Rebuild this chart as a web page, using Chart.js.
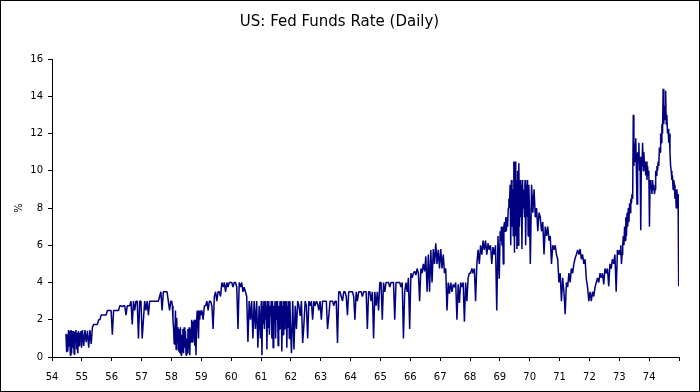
<!DOCTYPE html>
<html>
<head>
<meta charset="utf-8">
<title>US: Fed Funds Rate (Daily)</title>
<script src="https://cdn.jsdelivr.net/npm/chart.js@4/dist/chart.umd.min.js"></script>
<style>
    html, body { margin: 0; padding: 0; background: #ffffff; }
    #wrap { width: 700px; height: 392px; }
</style>
</head>
<body>
<div id="wrap"><canvas id="fedChart" width="700" height="392"></canvas></div>
<script>
// US Fed Funds rate (%).
// Quiet years: two readings per month, choppy years: four.

const years = [54, 55, 56, 57, 58, 59, 60, 61, 62, 63, 64, 65, 66, 67, 68, 69, 70, 71, 72, 73, 74];
const yearLabels = ['54', '55', '56', '57', '58', '59', '60', '61', '62', '63', '64',
    '65', '66', '67', '68', '69', '70', '71', '72', '73', '74'];

const rate1954 = [null, null, null, null, null, null, null, null, null, null, null,
    null, null, null, null, null, null, null, null, null, null, null,
    1.25, 0.25, 1.2, 0.3, 1.45, 0.6, 1.4, 0.1, 1.45, 0.2,
    1.4, 0.5, 1.4, 0.15, 1.35, 0.8, 1.45, 0.4, 1.3, 0.2,
    1.4, 0.6, 1.3, 1.0, 1.4, 0.5];
const rate1955 = [1.45, 0.6, 1.45, 0.8, 1.4, 0.5, 1.45, 0.7, 1.6, 1.75, 1.75, 1.75,
    1.75, 2.0, 2.0, 2.25, 2.25, 2.25, 2.25, 2.25, 2.5, 2.5, 2.5, 2.5];
const rate1956 = [1.2, 2.5, 2.5, 2.5, 2.5, 2.5, 2.75, 2.75, 2.7, 2.75, 2.75, 2.25,
    2.75, 2.75, 2.75, 3.0, 1.75, 3.0, 2.5, 3.0, 3.0, 1.0, 3.0, 3.0];
const rate1957 = [1.0, 2.0, 3.0, 2.5, 3.0, 2.25, 3.0, 3.0, 3.0, 3.0, 3.0, 3.0,
    3.0, 3.0, 3.25, 3.5, 2.5, 3.5, 3.5, 3.5, 3.5, 3.0, 2.5, 3.0];
const rate1958 = [3.0, 2.75, 2.0, 1.5, 0.7, 1.0, 2.5, 0.4, 2.1, 0.8, 1.6, 0.3,
    1.5, 0.2, 1.6, 0.1, 1.2, 0.3, 1.5, 0.2, 1.6, 0.5, 1.4, 0.1,
    1.0, 0.2, 1.5, 0.4, 1.6, 0.1, 1.5, 0.8, 2.0, 0.8, 1.9, 1.0,
    2.0, 0.6, 2.0, 0.1, 2.0, 2.5, 1.8, 1.0, 2.5, 2.0, 2.5, 2.25];
const rate1959 = [2.5, 2.0, 2.75, 2.75, 3.0, 2.5, 3.0, 3.0, 2.75, 1.5, 3.25, 3.5,
    3.0, 3.5, 3.5, 3.25, 4.0, 3.75, 4.0, 3.5, 4.0, 3.75, 4.0, 4.0];
const rate1960 = [4.0, 3.75, 4.0, 4.0, 3.75, 1.5, 4.0, 3.75, 4.0, 3.5, 3.75, 3.5,
    3.25, 0.8, 3.0, 2.0, 3.0, 1.0, 3.0, 1.5, 3.0, 0.5, 2.75, 1.0];
const rate1961 = [3.0, 0.1, 2.75, 1.8, 3.0, 1.5, 3.0, 2.0, 2.75, 0.4, 3.0, 1.6,
    3.0, 1.2, 2.75, 2.2, 3.0, 1.0, 3.0, 0.5, 2.75, 1.8, 3.0, 1.0,
    3.0, 2.0, 3.0, 0.6, 2.75, 1.5, 3.0, 2.2, 3.0, 0.3, 2.75, 1.2,
    3.0, 1.5, 3.0, 2.0, 3.0, 0.5, 2.75, 1.6, 3.0, 1.0, 3.0, 1.5];
const rate1962 = [0.2, 3.0, 0.4, 2.75, 1.5, 3.0, 2.75, 2.2, 3.0, 0.75, 1.75, 3.0,
    2.75, 1.0, 3.0, 2.75, 3.0, 2.0, 3.0, 2.75, 3.0, 2.85, 2.5, 3.0];
const rate1963 = [2.0, 3.0, 3.0, 3.0, 3.0, 1.5, 2.2, 3.0, 3.0, 3.0, 2.75, 3.0,
    3.0, 0.75, 3.5, 3.5, 3.25, 3.0, 3.5, 3.5, 3.25, 2.25, 3.5, 3.5];
const rate1964 = [3.5, 3.5, 3.25, 2.0, 3.5, 3.0, 3.5, 3.5, 3.5, 3.25, 3.5, 3.5,
    3.5, 1.5, 3.5, 3.5, 3.0, 3.5, 1.0, 3.5, 2.75, 3.5, 2.5, 4.0];
const rate1965 = [4.0, 2.0, 4.0, 3.5, 4.0, 4.0, 4.0, 3.75, 4.0, 4.0, 4.0, 2.0,
    4.0, 4.0, 4.0, 4.0, 3.75, 4.0, 1.0, 3.5, 4.0, 3.5, 4.25, 1.5];
const rate1966 = [4.5, 4.25, 4.5, 4.6, 4.4, 4.75, 4.5, 3.0, 4.75, 4.5, 5.0, 4.6,
    5.4, 3.5, 5.5, 3.5, 5.75, 4.0, 5.8, 5.0, 6.1, 5.0, 5.75, 4.75];
const rate1967 = [5.8, 4.75, 5.5, 4.5, 4.75, 2.5, 4.0, 3.4, 4.0, 3.5, 3.9, 3.75,
    4.0, 2.0, 3.9, 2.9, 4.0, 3.75, 4.0, 1.9, 4.0, 3.0, 4.25, 4.5];
const rate1968 = [4.5, 4.75, 4.5, 4.75, 3.0, 5.0, 5.75, 5.0, 6.0, 5.5, 6.25, 5.75,
    6.25, 5.5, 6.1, 5.75, 6.0, 5.0, 5.9, 5.5, 6.0, 2.5, 6.5, 4.2];
const rate1969 = [6.75, 6.25, 7.0, 6.0, 7.0, 5.0, 7.0, 7.25, 6.75, 7.5, 6.75, 7.5,
    7.0, 8.0, 8.5, 8.25, 9.25, 6.0, 9.5, 7.0, 9.0, 6.5, 10.5, 5.6,
    10.5, 6.5, 9.5, 5.8, 10.0, 6.0, 10.4, 7.0, 9.5, 7.5, 9.25, 5.8,
    9.5, 8.0, 9.0, 7.5, 9.5, 6.0, 9.25, 7.5, 9.5, 6.5, 9.25, 8.0];
const rate1970 = [5.0, 9.25, 7.75, 9.0, 7.5, 8.0, 6.75, 7.75, 7.5, 6.75, 7.25, 5.5,
    7.0, 6.5, 7.0, 6.25, 6.5, 5.0, 6.0, 5.75, 6.0, 5.5, 5.25, 4.0];
const rate1971 = [4.5, 3.0, 4.25, 3.5, 2.3, 4.0, 3.75, 4.5, 4.0, 4.75, 4.5, 5.0,
    5.3, 5.5, 5.75, 5.5, 5.8, 5.25, 5.5, 5.0, 5.25, 4.2, 3.75, 3.0];
const rate1972 = [3.5, 3.0, 3.5, 3.25, 3.75, 4.0, 4.25, 4.0, 4.5, 4.25, 4.5, 3.9,
    4.75, 4.5, 4.75, 3.8, 5.0, 4.75, 5.25, 5.0, 5.5, 3.5, 5.75, 5.5];
const rate1973 = [5.75, 5.5, 6.0, 5.0, 5.5, 6.0, 6.5, 6.0, 7.0, 6.25, 7.5, 6.5,
    7.75, 7.0, 8.0, 7.25, 8.25, 7.75, 8.5, 8.25, 8.75, 8.5, 13.0, 10.25,
    11.5, 10.5, 11.75, 10.0, 8.2, 11.0, 10.5, 11.5, 10.0, 10.75, 6.8, 10.5,
    10.25, 11.5, 10.0, 11.0, 10.25, 10.5, 9.75, 10.5, 9.5, 10.25, 9.75, 10.0];
const rate1974 = [7.0, 9.5, 9.0, 9.25, 8.75, 9.5, 9.0, 9.25, 8.75, 9.0, 10.0, 9.75,
    10.25, 10.0, 10.5, 10.25, 11.25, 11.0, 12.0, 11.5, 12.5, 12.0, 14.4, 12.5,
    13.5, 12.75, 14.3, 12.5, 13.0, 12.0, 12.25, 11.5, 12.0, 11.0, 10.25, 10.0,
    9.5, 9.75, 9.0, 9.5, 9.25, 8.5, 9.0, 8.0, 9.0, 8.5, 8.75, 3.8];

const yearRates = [rate1954, rate1955, rate1956, rate1957, rate1958, rate1959, rate1960,
    rate1961, rate1962, rate1963, rate1964, rate1965, rate1966, rate1967, rate1968,
    rate1969, rate1970, rate1971, rate1972, rate1973, rate1974];

const yTicks = [0, 2, 4, 6, 8, 10, 12, 14, 16];

// each reading sits in its own slot of the year
const points = [];
years.forEach((yr, k) => {
    const vals = yearRates[k];
    vals.forEach((v, i) => {
        points.push({ x: yr + (i + 0.5) / vals.length, y: v });
    });
});

const fontFamily = '"DejaVu Sans", Verdana, sans-serif';

// thin black frame round the whole picture
const frame = {
    id: 'frame',
    afterDraw(chart) {
        const c = chart.ctx;
        c.save();
        c.strokeStyle = '#000000';
        c.lineWidth = 1;
        c.strokeRect(0.5, 0.5, chart.width - 1, chart.height - 1);
        c.restore();
    }
};

new Chart(document.getElementById('fedChart'), {
    type: 'line',
    data: {
        datasets: [{
            label: 'Fed Funds',
            data: points,
            borderColor: '#000080',
            borderWidth: 1.5,
            borderJoinStyle: 'bevel',
            pointRadius: 0,
            tension: 0,
            spanGaps: false
        }]
    },
    options: {
        responsive: false,
        animation: false,
        devicePixelRatio: 1,
        layout: {
            padding: { left: 0, right: 21, top: 0, bottom: 0 }
        },
        plugins: {
            legend: { display: false },
            tooltip: { enabled: false },
            title: {
                display: true,
                text: 'US: Fed Funds Rate (Daily)',
                color: '#000000',
                font: { family: fontFamily, size: 15, weight: 'normal' },
                padding: { top: 13, bottom: 28 }
            }
        },
        scales: {
            x: {
                type: 'linear',
                min: 54,
                max: 75,
                afterBuildTicks: (scale) => {
                    scale.ticks = years.concat([75]).map(v => ({ value: v }));
                },
                ticks: {
                    autoSkip: false,
                    maxRotation: 0,
                    padding: 10,
                    color: '#000000',
                    font: { family: fontFamily, size: 10 },
                    callback: (value) => {
                        const idx = years.indexOf(value);
                        return idx >= 0 ? yearLabels[idx] : '';
                    }
                },
                grid: {
                    drawOnChartArea: false,
                    drawTicks: true,
                    tickLength: 4,
                    color: '#000000'
                },
                border: { color: '#000000', width: 1 },
                afterFit: (scale) => { scale.height = 35; }
            },
            y: {
                min: 0,
                max: 16,
                afterBuildTicks: (scale) => {
                    scale.ticks = yTicks.map(v => ({ value: v }));
                },
                ticks: {
                    padding: 5,
                    color: '#000000',
                    font: { family: fontFamily, size: 10 }
                },
                grid: {
                    drawOnChartArea: false,
                    drawTicks: true,
                    tickLength: 4,
                    color: '#000000'
                },
                border: { color: '#000000', width: 1 },
                title: {
                    display: true,
                    text: '%',
                    color: '#000000',
                    font: { family: fontFamily, size: 10 },
                    padding: { top: 13, bottom: 0 }
                },
                afterFit: (scale) => { scale.width = 52; }
            }
        }
    },
    plugins: [frame]
});
</script>
</body>
</html>
